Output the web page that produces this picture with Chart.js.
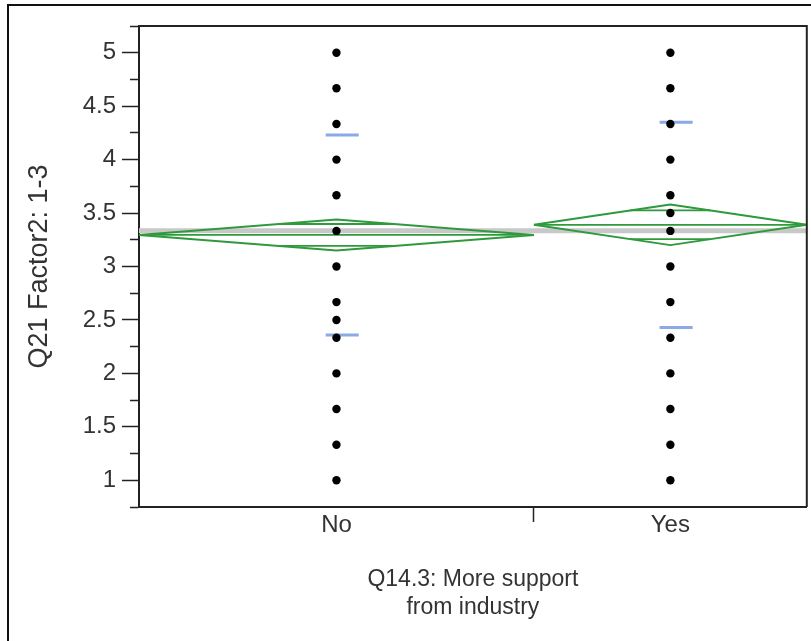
<!DOCTYPE html>
<html>
<head>
<meta charset="utf-8">
<script src="https://cdn.jsdelivr.net/npm/chart.js@4.4.0/dist/chart.umd.min.js"></script>
<style>
  body { margin: 0; background: #fff; overflow: hidden; }
  #wrap { position: relative; width: 811px; height: 641px; overflow: hidden; }
  #frame { position: absolute; left: 7px; top: 4px; width: 900px; height: 900px;
           border-left: 2px solid #111; border-top: 2px solid #111; pointer-events: none; }
</style>
</head>
<body>
<div id="wrap">
  <canvas id="grafico" width="811" height="641"></canvas>
  <div id="frame"></div>
</div>
<script>
// categorias e tamanho de cada grupo (largura proporcional ao n)
const categorias = ['No', 'Yes'];
const tamanhoGrupo = [55, 38];

// valores observados por grupo
const notasNo = [1, 1.333, 1.667, 2, 2.333, 2.5, 2.667, 3, 3.333, 3.667, 4, 4.333, 4.667, 5];
const notasYes = [1, 1.333, 1.667, 2, 2.333, 2.667, 3, 3.333, 3.5, 3.667, 4, 4.333, 4.667, 5];

// estatisticas dos grupos
const medias = [3.295, 3.39];
const desvios = [0.935, 0.96];
const intervalos = [0.145, 0.19];
const mediaGeral = 3.334;

const ticksY = [1, 1.5, 2, 2.5, 3, 3.5, 4, 4.5, 5];

const fonte = 'Liberation Sans, Arial, Helvetica, sans-serif';
const verde = '#2f9a3d';
const azul = '#8aaae6';

const notas = [notasNo, notasYes];
const total = tamanhoGrupo.reduce((a, b) => a + b, 0);
let acumulado = 0;
const limites = tamanhoGrupo.map(n => {
    const l = [acumulado, acumulado + n];
    acumulado += n;
    return l;
});
const centros = limites.map(l => (l[0] + l[1]) / 2);

const linha = (pontos, cor, largura) => ({
    data: pontos,
    showLine: true,
    borderColor: cor,
    borderWidth: largura,
    borderJoinStyle: 'bevel',
    pointRadius: 0,
    fill: false,
});

const datasets = [];

// pontos
notas.forEach((lista, i) => {
    datasets.push({
        data: lista.map(v => ({ x: centros[i], y: v })),
        pointRadius: 4.2,
        backgroundColor: '#000',
        borderWidth: 0,
        showLine: false,
    });
});

// linhas de desvio padrao
categorias.forEach((c, i) => {
    const c0 = centros[i] - 1.5;
    const c1 = centros[i] + 3.1;
    [medias[i] + desvios[i], medias[i] - desvios[i]].forEach(y => {
        datasets.push(linha([{ x: c0, y: y }, { x: c1, y: y }], azul, 3));
    });
});

// diamantes das medias
categorias.forEach((c, i) => {
    const [a, b] = limites[i];
    const m = medias[i];
    const ci = intervalos[i];
    const meio = centros[i];
    datasets.push(linha([
        { x: a, y: m }, { x: meio, y: m + ci }, { x: b, y: m }, { x: meio, y: m - ci }, { x: a, y: m }
    ], verde, 2));
    datasets.push(linha([{ x: a, y: m }, { x: b, y: m }], verde, 1.8));
    // marcas de sobreposicao
    const h = ci * Math.SQRT1_2;
    const w = (b - a) / 2 * (1 - Math.SQRT1_2);
    [m + h, m - h].forEach(y => {
        datasets.push(linha([{ x: meio - w, y: y }, { x: meio + w, y: y }], verde, 1.8));
    });
});

// media geral
datasets.push(linha([{ x: 0, y: mediaGeral }, { x: total, y: mediaGeral }], '#c8c8c8', 5));

const moldura = {
    id: 'moldura',
    afterDatasetsDraw(chart) {
        const { ctx, chartArea: a } = chart;
        ctx.save();
        ctx.strokeStyle = '#222';
        ctx.lineWidth = 2;
        ctx.beginPath();
        ctx.moveTo(a.left, a.top);
        ctx.lineTo(a.right, a.top);
        ctx.lineTo(a.right, a.bottom);
        ctx.stroke();
        ctx.restore();
    }
};

const ctx = document.getElementById('grafico').getContext('2d');

new Chart(ctx, {
    type: 'scatter',
    data: { datasets: datasets },
    plugins: [moldura],
    options: {
        responsive: false,
        animation: false,
        layout: { padding: { top: 26, right: 4, left: 0, bottom: 0 } },
        plugins: { legend: { display: false }, tooltip: { enabled: false } },
        scales: {
            x: {
                type: 'linear',
                min: 0,
                max: total,
                afterBuildTicks: (escala) => {
                    escala.ticks = [{ value: centros[0] }, { value: limites[0][1] }, { value: centros[1] }];
                },
                afterFit: (escala) => { escala.height = 134; },
                ticks: {
                    autoSkip: false,
                    maxRotation: 0,
                    padding: -11,
                    color: '#333',
                    font: { family: fonte, size: 24 },
                    callback: (v) => {
                        const i = centros.indexOf(v);
                        return i < 0 ? '' : categorias[i];
                    },
                },
                grid: {
                    drawOnChartArea: false,
                    tickLength: 15,
                    tickWidth: 1.5,
                    tickColor: (c) => c.index === 1 ? '#222' : 'rgba(0,0,0,0)',
                },
                border: { color: '#222', width: 2 },
                title: {
                    display: true,
                    text: ['Q14.3: More support', 'from industry'],
                    color: '#333',
                    font: { family: fonte, size: 23, lineHeight: 1.2 },
                    padding: { top: 0, bottom: 20 },
                },
            },
            y: {
                min: 0.75,
                max: 5.25,
                afterFit: (escala) => { escala.width = 139; },
                ticks: {
                    stepSize: 0.25,
                    autoSkip: false,
                    padding: 6,
                    color: '#333',
                    font: { family: fonte, size: 24 },
                    callback: (v) => ticksY.includes(v) ? v : '',
                },
                grid: {
                    drawOnChartArea: false,
                    tickLength: 17,
                    tickWidth: 1.5,
                    tickColor: '#222',
                    tickBorderDash: (c) => ticksY.includes(c.tick.value) ? [] : [0, 8, 20, 0],
                },
                border: { color: '#222', width: 2 },
                title: {
                    display: true,
                    text: 'Q21 Factor2: 1-3',
                    color: '#333',
                    font: { family: fonte, size: 27 },
                    padding: { top: 23, bottom: 0 },
                },
            },
        },
    },
});
</script>
</body>
</html>
